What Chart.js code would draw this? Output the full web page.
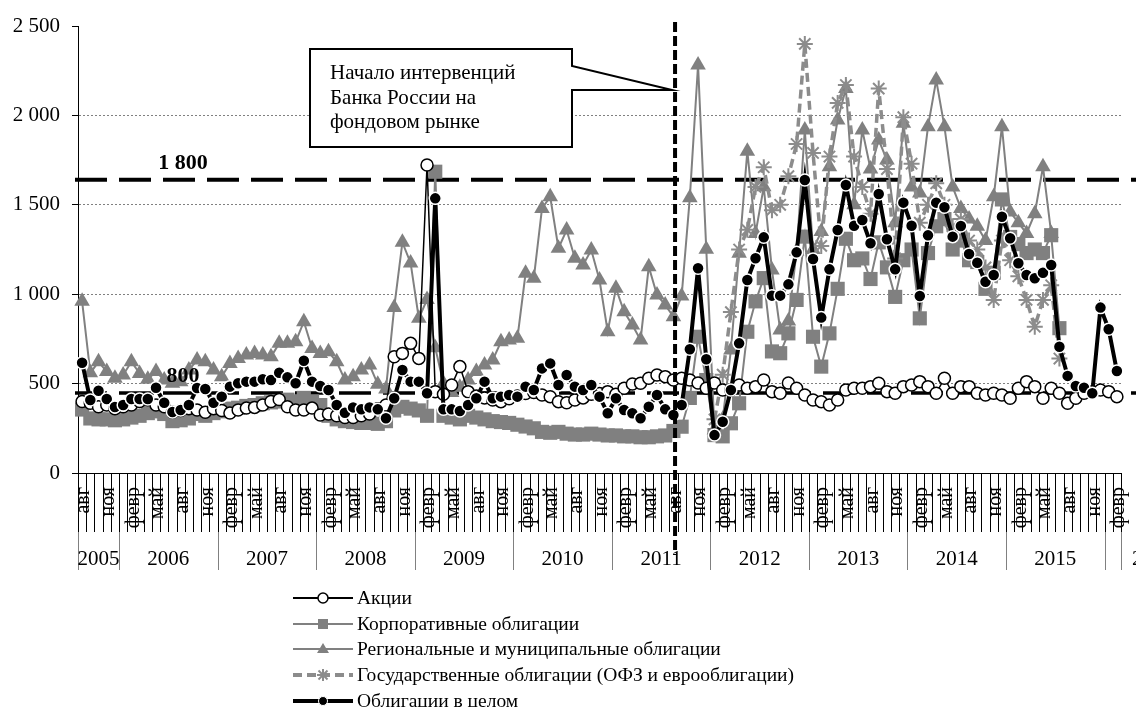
<!DOCTYPE html>
<html><head><meta charset="utf-8">
<script src="https://cdn.jsdelivr.net/npm/chart.js@4.4.1/dist/chart.umd.min.js"></script>
<style>
html,body{margin:0;padding:0;background:#fff;}
#wrap{position:relative;width:1136px;height:707px;overflow:hidden;background:#fff;}
#legend{position:absolute;left:293px;top:585px;font-family:'Liberation Serif','Times New Roman',serif;font-size:19.5px;color:#000;}
.row{display:flex;align-items:center;height:25.8px;white-space:nowrap;}
.row svg{width:60px;height:20px;margin-right:4px;flex:none;}
</style></head>
<body><div id="wrap"><canvas id="c" width="1136" height="707"></canvas><div id="legend"></div></div>
<script>
// ---- categories ----
const monthNames = ['янв','февр','март','апр','май','июнь','июль','авг','сен','окт','ноя','дек'];
const shownMonths = ['февр','май','авг','ноя'];
const yearLabels = ['2005','2006','2007','2008','2009','2010','2011','2012','2013','2014','2015','2016'];
const startYear = 2005, startMonthIndex = 7, monthCount = 127;

const seriesNames = ['Акции','Корпоративные облигации','Региональные и муниципальные облигации','Государственные облигации (ОФЗ и еврооблигации)','Облигации в целом'];

// ---- series values ----
const akcii = [
 400,390,370,380,360,370,380,400,410,380,
 370,340,350,360,352,340,360,350,335,352,
 363,367,380,400,411,371,352,352,363,324,
 330,320,310,310,320,330,360,380,650,669,
 725,641,1723,455,440,492,595,455,430,420,
 408,399,415,430,445,450,436,427,399,393,
 408,420,440,445,455,440,474,498,502,530,
 548,539,520,530,520,503,474,503,464,464,
 492,474,483,520,455,446,503,474,436,408,
 399,380,408,464,474,474,483,502,455,446,
 483,492,511,483,446,530,446,483,483,446,
 436,446,436,418,474,511,483,418,474,446,
 390,418,446,455,464,455,427];
const corporate = [
 355,305,300,300,295,300,310,320,335,345,
 330,290,295,305,330,320,335,345,360,365,
 375,380,390,395,400,410,400,420,400,380,
 320,300,290,285,280,280,275,290,350,370,
 360,350,320,1685,320,310,300,320,310,300,
 290,285,280,270,260,250,230,225,230,220,
 215,215,220,215,210,210,205,205,200,200,
 205,210,235,259,420,762,520,212,205,278,
 390,790,960,1090,680,670,781,968,1322,762,
 595,781,1030,1310,1190,1200,1085,1290,1150,985,
 1190,1250,865,1230,1380,1420,1250,1300,1190,1180,
 1030,1120,1530,1320,1280,1230,1250,1230,1330,810,
 null,null,null,null,null,null,null];
const regional = [
 960,560,622,567,530,548,622,557,524,567,
 520,502,511,576,632,622,576,539,613,641,
 660,669,660,650,725,725,734,846,697,669,
 678,622,520,539,576,604,497,470,925,1290,
 1175,865,970,700,500,450,480,520,567,604,
 632,734,744,753,1117,1089,1480,1545,1257,1359,
 1201,1163,1247,1079,790,1033,902,828,744,1154,
 996,940,874,990,1540,2282,1252,240,300,688,
 1229,1800,1340,1601,1135,800,850,1240,1918,1250,
 1350,1713,1974,2150,1500,1918,1700,1862,1750,1400,
 1956,1600,1566,1937,2198,1937,1600,1480,1420,1380,
 1300,1545,1937,1460,1400,1340,1450,1713,1340,null,
 null,null,null,null,null,null,null];
const government = [
 null,null,null,null,null,null,null,null,null,null,
 null,null,null,null,null,null,null,null,null,null,
 null,null,null,null,null,null,null,null,null,null,
 null,null,null,null,null,null,null,null,null,null,
 null,null,null,null,null,null,null,null,null,null,
 null,null,null,null,null,null,null,null,null,null,
 null,null,null,null,null,null,null,null,null,null,
 null,null,null,null,null,null,null,300,550,900,
 1250,1360,1600,1710,1470,1500,1660,1840,2400,1790,
 1270,1770,2070,2170,1770,1600,1450,2150,1700,1200,
 1990,1730,1400,1500,1620,1500,1380,1420,1300,1250,
 1150,968,1300,1190,1100,968,818,968,1050,640,
 null,null,null,null,null,null,null];
const bondsTotal = [
 617,408,460,414,369,380,414,414,414,477,
 393,341,352,380,475,470,393,427,483,502,
 511,511,524,520,561,535,502,628,511,487,
 464,380,337,367,356,367,356,306,418,576,
 511,511,446,1536,356,356,347,380,418,511,
 418,427,436,427,483,464,585,613,492,548,
 483,464,492,427,334,418,352,334,306,371,
 436,356,324,380,692,1145,636,212,287,464,
 725,1079,1201,1318,992,992,1055,1234,1639,1197,
 869,1139,1359,1611,1383,1415,1285,1560,1307,1139,
 1512,1383,990,1329,1512,1486,1322,1381,1225,1176,
 1070,1107,1433,1313,1173,1107,1089,1120,1163,706,
 543,487,477,446,925,804,570];

// ---- annotations ----
const refLineValues = [1640, 447];
const refLineLabels = ['1 800', '800'];
const interventionIndex = 72;
const calloutLines = ['Начало интервенций', 'Банка России на', 'фондовом рынке'];

// ---- build categories ----
const categories = [], catMonth = [];
for (let i = 0; i < monthCount; i++) {
  const m = (startMonthIndex + i) % 12;
  const yr = startYear + Math.floor((startMonthIndex + i) / 12);
  categories.push(monthNames[m] + ' ' + yr);
  catMonth.push(m);
}

const SERIF = "'Liberation Serif','Times New Roman',serif";
Chart.defaults.font.family = SERIF;
Chart.defaults.color = '#000';

function fmtNum(v) {
  if (v >= 1000) return Math.floor(v / 1000) + ' ' + String(v % 1000).padStart(3, '0');
  return String(v);
}

const decor = {
  id: 'decor',
  beforeDatasetsDraw(chart) {
    const {ctx, chartArea: ca, scales: {y}} = chart;
    ctx.save();
    ctx.strokeStyle = '#000';
    ctx.setLineDash([32, 12]);
    refLineValues.forEach((v, k) => {
      const py = y.getPixelForValue(v);
      ctx.lineWidth = k === 0 ? 4 : 3.5;
      ctx.beginPath();
      ctx.moveTo(ca.left - 3, py);
      ctx.lineTo(chart.width, py);
      ctx.stroke();
    });
    ctx.restore();
  },
  afterDatasetsDraw(chart) {
    const {ctx, chartArea: ca, scales: {y}} = chart;
    ctx.save();
    ctx.fillStyle = '#000';
    ctx.font = 'bold 22px ' + SERIF;
    ctx.textAlign = 'center';
    ctx.textBaseline = 'alphabetic';
    refLineValues.forEach((v, k) => {
      const py = y.getPixelForValue(v);
      ctx.fillText(refLineLabels[k], ca.left + 105, py - 11);
    });
    ctx.restore();
  },
  afterDraw(chart) {
    const {ctx, chartArea: ca, scales: {x, y}} = chart;
    const step = x.getPixelForValue(1) - x.getPixelForValue(0);
    const bnd = i => x.getPixelForValue(i) - step / 2;
    ctx.save();
    // month tick lines
    ctx.lineWidth = 1;
    ctx.strokeStyle = '#000';
    for (let i = 0; i <= monthCount; i++) {
      const px = Math.round(bnd(i)) + 0.5;
      ctx.beginPath(); ctx.moveTo(px, ca.bottom); ctx.lineTo(px, ca.bottom + 59); ctx.stroke();
    }
    // year separators and labels
    const starts = [0];
    for (let i = 1; i < monthCount; i++) if (catMonth[i] === 0) starts.push(i);
    starts.push(monthCount);
    ctx.strokeStyle = '#808080';
    starts.forEach(s => {
      const px = Math.round(bnd(s)) + 0.5;
      ctx.beginPath(); ctx.moveTo(px, ca.bottom + 59); ctx.lineTo(px, ca.bottom + 97); ctx.stroke();
    });
    ctx.fillStyle = '#000';
    ctx.font = '21px ' + SERIF;
    ctx.textBaseline = 'alphabetic';
    for (let k = 0; k < starts.length - 1; k++) {
      const l = bnd(starts[k]), r = bnd(starts[k + 1]);
      const w = ctx.measureText(yearLabels[k]).width;
      if (w <= r - l + 2) { ctx.textAlign = 'center'; ctx.fillText(yearLabels[k], (l + r) / 2, ca.bottom + 92); }
      else { ctx.textAlign = 'left'; ctx.fillText(yearLabels[k], r + 11, ca.bottom + 92); }
    }
    // vertical intervention line
    const vx = x.getPixelForValue(interventionIndex) + 0.2 * step;
    ctx.strokeStyle = '#000';
    ctx.lineWidth = 4;
    ctx.setLineDash([10, 4]);
    ctx.beginPath(); ctx.moveTo(vx, ca.top - 4); ctx.lineTo(vx, ca.bottom + 82); ctx.stroke();
    ctx.setLineDash([]);
    // callout
    const bl = 310, bt = 49, br = 572, bb = 147, n1 = 66, n2 = 90;
    ctx.lineWidth = 2;
    ctx.fillStyle = '#fff';
    ctx.beginPath();
    ctx.moveTo(bl, bt); ctx.lineTo(br, bt); ctx.lineTo(br, n1);
    ctx.lineTo(vx - 3, n2); ctx.lineTo(br, n2); ctx.lineTo(br, bb);
    ctx.lineTo(bl, bb); ctx.closePath();
    ctx.fill(); ctx.stroke();
    ctx.fillStyle = '#000';
    ctx.font = '21px ' + SERIF;
    ctx.textAlign = 'left';
    calloutLines.forEach((t, k) => ctx.fillText(t, 330, 79 + k * 24.5));
    ctx.restore();
  }
};

new Chart(document.getElementById('c'), {
  type: 'line',
  data: {
    labels: categories,
    datasets: [
      { label: seriesNames[0], data: akcii, order: 2, borderColor: '#000', borderWidth: 1.5,
        pointStyle: 'circle', pointRadius: 6, pointBackgroundColor: '#fff', pointBorderColor: '#000', pointBorderWidth: 1.5 },
      { label: seriesNames[1], data: corporate, order: 4, borderColor: '#808080', borderWidth: 2,
        pointStyle: 'rect', pointRadius: 10, pointBackgroundColor: '#808080', pointBorderColor: '#808080', pointBorderWidth: 0 },
      { label: seriesNames[2], data: regional, order: 5, borderColor: '#808080', borderWidth: 2,
        pointStyle: 'triangle', pointRadius: 9, pointBackgroundColor: '#808080', pointBorderColor: '#808080', pointBorderWidth: 0 },
      { label: seriesNames[3], data: government, order: 3, borderColor: '#8c8c8c', borderWidth: 3.5, borderDash: [9, 5],
        pointStyle: 'star', pointRadius: 8, pointBackgroundColor: '#8c8c8c', pointBorderColor: '#8c8c8c', pointBorderWidth: 2 },
      { label: seriesNames[4], data: bondsTotal, order: 1, borderColor: '#000', borderWidth: 4,
        pointStyle: 'circle', pointRadius: 6, pointBackgroundColor: '#000', pointBorderColor: '#fff', pointBorderWidth: 1.5 }
    ]
  },
  options: {
    responsive: false,
    animation: false,
    spanGaps: false,
    layout: { padding: { top: 26, right: 15, bottom: 0, left: 0 } },
    plugins: { legend: { display: false }, tooltip: { enabled: false } },
    elements: { line: { tension: 0 } },
    scales: {
      x: {
        type: 'category', offset: true,
        grid: { display: false, drawTicks: false },
        border: { display: true, color: '#000', width: 1 },
        ticks: {
          autoSkip: false, maxRotation: 90, minRotation: 90, padding: 14, labelOffset: 2,
          font: { size: 20 }, color: '#000',
          callback: (v, i) => shownMonths.includes(monthNames[catMonth[i]]) ? monthNames[catMonth[i]] : ''
        },
        afterFit: s => { s.height = 234; s.paddingLeft = 0; s.paddingRight = 0; }
      },
      y: {
        min: 0, max: 2500,
        ticks: { stepSize: 500, padding: 12, font: { size: 21 }, color: '#000', callback: v => fmtNum(v) },
        grid: {
          color: c => (c.tick && (c.tick.value === 0 || c.tick.value === 2500)) ? 'rgba(0,0,0,0)' : '#808080',
          tickColor: '#000', tickLength: 6, lineWidth: 1, drawTicks: true
        },
        border: { display: true, color: '#000', width: 1, dash: [2, 2] },
        afterFit: s => { s.width = 78; }
      }
    }
  },
  plugins: [decor]
});

// ---- HTML legend ----
const legendIcons = [
  '<line x1="0" y1="10" x2="60" y2="10" stroke="#000" stroke-width="2"/><circle cx="30" cy="10" r="5" fill="#fff" stroke="#000" stroke-width="1.5"/>',
  '<line x1="0" y1="10" x2="60" y2="10" stroke="#808080" stroke-width="2"/><rect x="25" y="5" width="10" height="10" fill="#808080"/>',
  '<line x1="0" y1="10" x2="60" y2="10" stroke="#808080" stroke-width="2"/><polygon points="30,4 36,14 24,14" fill="#808080"/>',
  '<line x1="0" y1="10" x2="60" y2="10" stroke="#8c8c8c" stroke-width="4" stroke-dasharray="9,5"/><g stroke="#8c8c8c" stroke-width="2"><line x1="30" y1="4" x2="30" y2="16"/><line x1="24" y1="10" x2="36" y2="10"/><line x1="25.5" y1="5.5" x2="34.5" y2="14.5"/><line x1="34.5" y1="5.5" x2="25.5" y2="14.5"/></g>',
  '<line x1="0" y1="10" x2="60" y2="10" stroke="#000" stroke-width="4"/><circle cx="30" cy="10" r="4.5" fill="#000" stroke="#fff" stroke-width="1"/>'
];
const lg = document.getElementById('legend');
seriesNames.forEach((n, k) => {
  const row = document.createElement('div');
  row.className = 'row';
  row.innerHTML = '<svg viewBox="0 0 60 20">' + legendIcons[k] + '</svg>';
  const sp = document.createElement('span');
  sp.textContent = n;
  row.appendChild(sp);
  lg.appendChild(row);
});
</script>
</body></html>
